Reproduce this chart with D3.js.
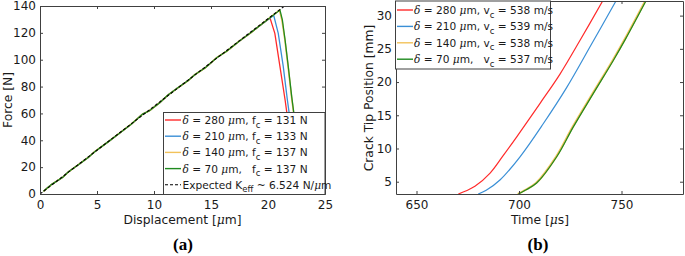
<!DOCTYPE html>
<html>
<head>
<meta charset="utf-8">
<script src="https://cdn.jsdelivr.net/npm/d3@7"></script>
<style>
  body { margin: 0; background: #fff; }
</style>
</head>
<body>
<div id="chart"></div>
<script>
const WIDTH = 685, HEIGHT = 256;

// panel (a): force vs displacement
const dispTicks = [0, 5, 10, 15, 20, 25];
const forceTicks = [0, 20, 40, 60, 80, 100, 120, 140];
const loadDisp = [0.3, 1.0, 2.0, 2.5, 3.4, 4.2, 4.8, 6.0, 7.0, 8.0, 9.0, 9.6, 10.5, 11.2, 12.0, 13.0, 13.6, 14.5, 15.5, 16.4, 17.5, 18.4, 19.3];
const loadForce = [2, 7, 12.5, 16.5, 22, 27, 31.5, 39, 45.5, 52, 59.5, 62, 68, 73.5, 78.5, 84.5, 89, 94, 101.5, 106.5, 114, 119.5, 125.5];
const redTailDisp = [20.18, 20.6, 21.05, 21.5, 21.64, 21.9, 22.2];
const redTailForce = [131, 119.6, 94.8, 70, 61.3, 40, 10];
const blueTailDisp = [20.5, 20.9, 21.34, 21.7, 21.84, 22.1, 22.4];
const blueTailForce = [133, 119.6, 94.8, 70, 61.3, 40, 10];
const yellowTailDisp = [21.0, 21.22, 21.48, 21.76, 22.06, 22.23, 22.5];
const yellowTailForce = [137, 129.5, 114.7, 94.8, 72.5, 61.3, 30];
const greenTailDisp = [21.05, 21.26, 21.5, 21.78, 22.08, 22.25, 22.55];
const greenTailForce = [137, 129.6, 114.7, 94.8, 72.5, 61.3, 30];
const expectedDisp = [0, 21.5];
const expectedForce = [0, 140.3];

// panel (b): crack tip position vs time
const timeTicks = [650, 700, 750];
const posTicks = [5, 10, 15, 20, 25, 30];
const redTime = [670.4, 674, 678.5, 685.9, 692, 698.9, 710.2, 720, 730, 740.8];
const redPos = [3.15, 3.6, 4.3, 6.3, 8.8, 11.75, 16.76, 21.2, 26.4, 32.2];
const blueTime = [680.1, 684, 690.7, 700.5, 711.9, 723.3, 735, 747.3];
const bluePos = [3.15, 3.7, 5.25, 8.75, 13.76, 19.2, 25.5, 32.2];
const yellowTime = [699.4, 702.7, 708.3, 718.1, 726.2, 735.9, 745.7, 751.7, 761.6];
const yellowPos = [3.15, 3.7, 4.8, 8.75, 13.25, 18.26, 23.25, 26.5, 32.2];
const greenTime = [699.7, 703, 708.6, 718.4, 726.5, 736.2, 746, 752, 761.9];
const greenPos = [3.15, 3.7, 4.8, 8.75, 13.25, 18.26, 23.25, 26.5, 32.2];

// legend values
const deltas = [280, 210, 140, 70];
const critForces = [131, 133, 137, 137];
const critSpeeds = [538, 539, 538, 537];
const expectedK = "6.524";

const COLORS = ["#ff2a2a", "#3a8fd6", "#f2c25a", "#1f8a1f"];
const AXIS_COLOR = "#404040";
const SANS = "DejaVu Sans";
const LEG_SIZE = 10.6;

const zip = (xs, ys) => xs.map((v, i) => [v, ys[i]]);

var svg = d3.select("#chart").append("svg")
    .attr("width", WIDTH)
    .attr("height", HEIGHT)
    .attr("font-family", SANS);

var drawBox = function (x, y, xt, yt) {
    var x0 = x.range()[0], x1 = x.range()[1], y0 = y.range()[0], y1 = y.range()[1];
    var bottom = svg.append("g").attr("transform", "translate(0," + y0 + ")")
        .call(d3.axisBottom(x).tickValues(xt).tickSizeInner(-3).tickSizeOuter(0).tickPadding(6));
    var top = svg.append("g").attr("transform", "translate(0," + y1 + ")")
        .call(d3.axisTop(x).tickValues(xt).tickSizeInner(-3).tickSizeOuter(0).tickFormat(""));
    var left = svg.append("g").attr("transform", "translate(" + x0 + ",0)")
        .call(d3.axisLeft(y).tickValues(yt).tickSizeInner(-3).tickSizeOuter(0).tickPadding(4));
    var right = svg.append("g").attr("transform", "translate(" + x1 + ",0)")
        .call(d3.axisRight(y).tickValues(yt).tickSizeInner(-3).tickSizeOuter(0).tickFormat(""));
    [bottom, top, left, right].forEach(function (g) {
        g.attr("font-family", SANS).attr("font-size", 12);
        g.selectAll("path, line").attr("stroke", AXIS_COLOR);
        g.selectAll("text").attr("fill", "#1a1a1a");
    });
};

var addClip = function (id, x, y) {
    svg.append("clipPath").attr("id", id).append("rect")
        .attr("x", x.range()[0]).attr("y", y.range()[1])
        .attr("width", x.range()[1] - x.range()[0])
        .attr("height", y.range()[0] - y.range()[1]);
};

// rich text: segments of [text, style]; style "it" = math italic, "sub" = subscript, "up" = back to baseline
var richText = function (sel, segs) {
    sel.attr("xml:space", "preserve").style("white-space", "pre");
    segs.forEach(function (s) {
        var t = sel.append("tspan").text(s[0]);
        if (s[1] === "it") t.attr("font-family", "DejaVu Serif").attr("font-style", "italic");
        if (s[1] === "sub") t.attr("font-size", 8.5).attr("dy", 3.5);
        if (s[1] === "up") t.attr("dy", -3.5);
    });
};

// ---------- panel (a)
var xA = d3.scaleLinear().domain([0, 25]).range([40, 325]);
var yA = d3.scaleLinear().domain([0, 140]).range([194, 6]);
addClip("clipA", xA, yA);

var lineA = d3.line().x(d => xA(d[0])).y(d => yA(d[1]));
var seriesA = [
    zip(loadDisp.concat(redTailDisp), loadForce.concat(redTailForce)),
    zip(loadDisp.concat(blueTailDisp), loadForce.concat(blueTailForce)),
    zip(loadDisp.concat(yellowTailDisp), loadForce.concat(yellowTailForce)),
    zip(loadDisp.concat(greenTailDisp), loadForce.concat(greenTailForce))
];
var gA = svg.append("g").attr("clip-path", "url(#clipA)");
seriesA.forEach(function (s, i) {
    gA.append("path").attr("d", lineA(s)).attr("fill", "none")
        .attr("stroke", COLORS[i]).attr("stroke-width", i === 2 ? 1.6 : 1.3);
});
gA.append("path").attr("d", lineA(zip(expectedDisp, expectedForce)))
    .attr("fill", "none").attr("stroke", "#000").attr("stroke-width", 1.1)
    .attr("stroke-dasharray", "3,2");

drawBox(xA, yA, dispTicks, forceTicks);

svg.append("text").attr("x", 182.5).attr("y", 223.5).attr("text-anchor", "middle")
    .attr("font-size", 12.3).attr("fill", "#1a1a1a")
    .call(richText, [["Displacement ["], ["μ", "it"], ["m]"]]);
svg.append("text").attr("transform", "translate(12,100) rotate(-90)").attr("text-anchor", "middle")
    .attr("font-size", 12.3).attr("fill", "#1a1a1a").text("Force [N]");
svg.append("text").attr("x", 183).attr("y", 250).attr("text-anchor", "middle")
    .attr("font-family", "Liberation Serif").attr("font-weight", "bold").attr("font-size", 17)
    .text("(a)");

// legend (a)
var legA = svg.append("g");
legA.append("rect").attr("x", 163.5).attr("y", 112.5).attr("width", 161.5).attr("height", 82)
    .attr("fill", "#fff").attr("stroke", AXIS_COLOR);
var rowsA = deltas.map(function (d, i) {
    var pad = d < 100 ? ",   f" : ", f";
    return [["δ", "it"], [" = " + d + " "], ["μ", "it"], ["m" + pad], ["c", "sub"], [" = " + critForces[i] + " N", "up"]];
});
rowsA.push([["Expected K"], ["eff", "sub"], [" ~ " + expectedK + " N/", "up"], ["μ", "it"], ["m"]]);
rowsA.forEach(function (segs, i) {
    var yy = 120 + i * 16.2;
    legA.append("line").attr("x1", 165).attr("x2", 181).attr("y1", yy).attr("y2", yy)
        .attr("stroke", i < 4 ? COLORS[i] : "#000").attr("stroke-width", i < 4 ? 1.4 : 1.1)
        .attr("stroke-dasharray", i < 4 ? null : "3,2");
    legA.append("text").attr("x", 182.5).attr("y", yy + 4).attr("font-size", LEG_SIZE)
        .attr("fill", "#1a1a1a").call(richText, segs);
});

// ---------- panel (b)
var xB = d3.scaleLinear().domain([640, 780]).range([396, 683]);
var yB = d3.scaleLinear().domain([3.15, 32.2]).range([194, 1]);
addClip("clipB", xB, yB);

var lineB = d3.line().x(d => xB(d[0])).y(d => yB(d[1])).curve(d3.curveCatmullRom);
var seriesB = [zip(redTime, redPos), zip(blueTime, bluePos), zip(yellowTime, yellowPos), zip(greenTime, greenPos)];
var gB = svg.append("g").attr("clip-path", "url(#clipB)");
seriesB.forEach(function (s, i) {
    gB.append("path").attr("d", lineB(s)).attr("fill", "none")
        .attr("stroke", COLORS[i]).attr("stroke-width", i === 2 ? 2.2 : 1.2);
});

drawBox(xB, yB, timeTicks, posTicks);

svg.append("text").attr("x", 540).attr("y", 223.5).attr("text-anchor", "middle")
    .attr("font-size", 12.3).attr("fill", "#1a1a1a")
    .call(richText, [["Time ["], ["μ", "it"], ["s]"]]);
svg.append("text").attr("transform", "translate(373,98) rotate(-90)").attr("text-anchor", "middle")
    .attr("font-size", 12.3).attr("fill", "#1a1a1a").text("Crack Tip Position [mm]");
svg.append("text").attr("x", 538).attr("y", 250).attr("text-anchor", "middle")
    .attr("font-family", "Liberation Serif").attr("font-weight", "bold").attr("font-size", 17)
    .text("(b)");

// legend (b)
var legB = svg.append("g");
legB.append("rect").attr("x", 395.5).attr("y", 1).attr("width", 155).attr("height", 68)
    .attr("fill", "#fff").attr("stroke", AXIS_COLOR);
deltas.forEach(function (d, i) {
    var yy = 10 + i * 16.4;
    var pad = d < 100 ? ",   v" : ", v";
    legB.append("line").attr("x1", 397).attr("x2", 413).attr("y1", yy).attr("y2", yy)
        .attr("stroke", COLORS[i]).attr("stroke-width", 1.4);
    legB.append("text").attr("x", 414).attr("y", yy + 4).attr("font-size", LEG_SIZE)
        .attr("fill", "#1a1a1a")
        .call(richText, [["δ", "it"], [" = " + d + " "], ["μ", "it"], ["m" + pad], ["c", "sub"], [" = " + critSpeeds[i] + " m/s", "up"]]);
});
</script>
</body>
</html>
